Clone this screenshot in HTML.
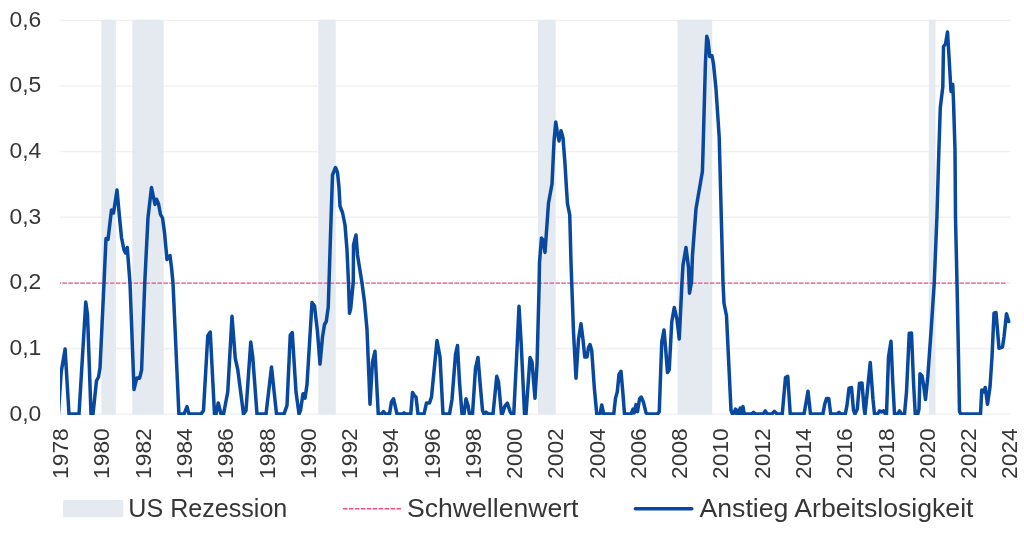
<!DOCTYPE html>
<html lang="de"><head><meta charset="utf-8"><title>Anstieg Arbeitslosigkeit</title>
<style>html,body{margin:0;padding:0;background:#fff}svg{display:block}text{font-family:"Liberation Sans",sans-serif;fill:#363636}</style></head><body>
<svg width="1024" height="544" viewBox="0 0 1024 544">
<rect width="1024" height="544" fill="#fff"/>
<line x1="60" x2="1011" y1="20.40" y2="20.40" stroke="#f0f0f0" stroke-width="1.3"/>
<line x1="60" x2="1011" y1="86.02" y2="86.02" stroke="#f0f0f0" stroke-width="1.3"/>
<line x1="60" x2="1011" y1="151.64" y2="151.64" stroke="#f0f0f0" stroke-width="1.3"/>
<line x1="60" x2="1011" y1="217.26" y2="217.26" stroke="#f0f0f0" stroke-width="1.3"/>
<line x1="60" x2="1011" y1="282.88" y2="282.88" stroke="#f0f0f0" stroke-width="1.3"/>
<line x1="60" x2="1011" y1="348.50" y2="348.50" stroke="#f0f0f0" stroke-width="1.3"/>
<line x1="60" x2="1011" y1="414.12" y2="414.12" stroke="#f0f0f0" stroke-width="1.3"/>
<rect x="101.4" y="19.9" width="14.50" height="394.70" fill="#e5eaf1"/>
<rect x="132.3" y="19.9" width="31.40" height="394.70" fill="#e5eaf1"/>
<rect x="318.25" y="19.9" width="17.50" height="394.70" fill="#e5eaf1"/>
<rect x="538" y="19.9" width="17.75" height="394.70" fill="#e5eaf1"/>
<rect x="677.5" y="19.9" width="34.75" height="394.70" fill="#e5eaf1"/>
<rect x="928.75" y="19.9" width="6.75" height="394.70" fill="#e5eaf1"/>
<line x1="60" x2="1006.3" y1="283.1" y2="283.1" stroke="#e9507f" stroke-width="1.35" stroke-dasharray="4.5 1.44" stroke-dashoffset="3.5"/>
<clipPath id="c"><rect x="60" y="0" width="951.2" height="415"/></clipPath>
<path d="M58.40,414.10 L61.20,372.00 L65.10,349.10 L69.00,414.10 L79.00,414.10 L85.75,302.00 L87.50,314.50 L91.00,414.10 L93.00,414.10 L96.50,380.75 L98.50,377.00 L100.00,368.00 L104.00,283.00 L106.00,238.50 L108.00,239.50 L111.50,210.00 L113.50,213.00 L117.00,190.00 L120.00,222.50 L121.50,237.50 L124.00,250.00 L125.50,253.00 L127.25,247.50 L130.00,283.00 L134.00,389.50 L136.80,377.90 L139.60,378.20 L141.60,370.00 L144.75,283.00 L148.00,217.50 L151.50,187.50 L155.00,204.50 L156.50,199.25 L158.50,203.75 L160.50,214.50 L162.50,218.00 L164.50,232.50 L167.00,259.50 L170.00,255.50 L171.50,267.50 L173.00,283.00 L178.90,414.10 L184.00,414.10 L187.00,406.65 L189.00,414.10 L201.00,414.10 L203.50,410.40 L207.75,335.75 L210.25,332.00 L214.50,414.10 L216.00,414.10 L218.25,402.90 L221.00,414.10 L223.50,414.10 L227.75,392.00 L232.00,316.25 L235.25,358.25 L237.75,369.50 L243.50,414.10 L246.00,410.40 L250.75,342.00 L252.75,357.00 L257.00,414.10 L266.00,414.10 L271.50,367.00 L276.50,414.10 L284.00,414.10 L287.00,405.40 L290.25,335.00 L292.25,332.50 L296.00,392.00 L299.00,414.10 L300.50,410.40 L303.00,393.75 L305.00,398.25 L307.00,384.50 L312.00,302.50 L314.50,305.75 L317.50,332.00 L320.00,364.00 L322.50,337.00 L324.50,324.50 L326.25,321.50 L328.25,307.00 L329.00,283.00 L330.60,232.50 L332.50,175.00 L335.50,167.50 L337.50,172.50 L339.00,187.50 L340.00,206.25 L342.50,212.50 L345.00,225.00 L347.00,250.00 L348.50,283.00 L349.50,313.25 L350.75,308.25 L353.25,282.00 L353.50,245.00 L356.00,235.00 L357.50,255.00 L362.00,283.00 L364.50,302.00 L367.00,329.50 L370.00,404.15 L372.50,362.00 L375.00,351.25 L378.25,414.10 L381.50,414.10 L383.50,411.65 L385.50,414.10 L389.50,414.10 L391.50,401.65 L393.50,398.75 L397.00,414.10 L402.50,414.10 L404.00,412.90 L405.50,414.10 L410.75,414.10 L412.50,392.50 L414.50,395.75 L416.00,397.00 L418.00,414.10 L424.00,414.10 L426.50,402.90 L429.50,402.90 L431.50,397.00 L437.00,340.50 L440.00,357.00 L443.00,414.10 L449.50,414.10 L452.00,399.50 L455.50,354.50 L457.50,345.50 L459.50,382.00 L462.00,414.10 L464.00,414.10 L466.00,398.75 L468.00,405.40 L469.50,414.10 L472.50,414.10 L475.50,368.25 L478.00,357.50 L480.00,382.00 L482.50,410.40 L484.00,414.10 L486.00,412.15 L488.75,414.10 L493.00,414.10 L496.75,376.25 L498.50,382.00 L501.50,414.10 L502.30,414.10 L504.90,406.10 L507.30,403.10 L510.20,411.90 L511.60,414.10 L513.75,414.10 L516.25,364.50 L519.00,306.25 L521.25,344.50 L524.50,414.10 L526.00,414.10 L530.00,357.50 L532.00,362.00 L535.00,398.25 L537.00,364.50 L539.00,290.00 L539.50,262.50 L541.50,238.00 L543.00,240.00 L545.00,252.50 L548.50,203.00 L552.00,184.00 L554.00,141.50 L555.75,122.00 L557.25,131.50 L559.00,141.00 L561.00,130.75 L563.00,137.75 L565.00,164.00 L566.50,189.00 L567.50,203.75 L569.75,215.00 L571.00,262.50 L573.50,332.00 L576.00,378.25 L578.50,339.50 L581.00,323.75 L583.00,339.50 L584.75,357.00 L587.00,357.00 L588.50,347.50 L590.00,344.50 L591.75,350.75 L594.25,387.00 L596.75,414.10 L600.00,414.10 L601.75,404.90 L603.75,414.10 L613.75,414.10 L615.50,398.25 L617.25,392.00 L619.00,374.50 L621.00,371.25 L623.00,394.50 L624.50,414.10 L631.00,414.10 L633.00,409.15 L634.25,412.90 L636.00,404.65 L637.50,411.65 L639.50,399.00 L641.25,397.00 L643.50,402.40 L646.00,412.90 L647.50,414.10 L657.50,414.10 L659.25,411.65 L661.75,342.00 L664.00,330.00 L665.50,347.00 L667.50,372.50 L669.25,369.50 L671.75,322.00 L674.25,307.50 L677.00,319.50 L679.25,339.00 L682.00,282.00 L683.00,265.00 L686.00,247.50 L688.50,267.50 L689.50,293.25 L691.50,282.00 L692.50,255.00 L696.00,208.75 L702.40,171.50 L703.00,152.00 L705.40,64.00 L706.75,36.30 L708.00,40.25 L709.75,56.50 L712.00,55.75 L713.50,64.00 L716.00,89.00 L719.20,137.00 L723.00,283.00 L724.00,303.25 L726.50,315.75 L731.00,410.40 L732.50,414.10 L734.00,412.90 L735.50,409.15 L736.75,414.10 L738.00,410.40 L739.00,414.10 L740.25,407.90 L741.25,414.10 L743.00,406.65 L744.25,414.10 L751.50,414.10 L753.50,412.40 L755.50,414.10 L763.00,414.10 L765.25,410.90 L767.25,414.10 L771.75,414.10 L774.25,411.40 L777.25,414.10 L782.25,414.10 L785.50,377.50 L787.75,376.25 L790.25,414.10 L804.00,414.10 L806.00,402.90 L808.00,391.25 L810.50,414.10 L822.90,414.10 L824.80,403.90 L826.50,398.60 L828.80,398.60 L830.70,414.10 L837.00,414.10 L839.00,412.40 L841.00,414.10 L845.25,414.10 L847.00,405.40 L849.00,388.25 L851.50,387.50 L853.50,410.40 L855.00,414.10 L857.25,409.15 L859.50,383.25 L862.00,383.00 L864.00,407.90 L865.00,414.10 L870.25,362.50 L873.00,399.50 L874.50,414.10 L877.50,414.10 L879.50,410.90 L881.50,411.90 L883.50,410.90 L885.50,414.10 L886.50,414.10 L888.50,357.00 L891.00,341.25 L892.75,382.00 L894.50,414.10 L897.50,414.10 L899.50,410.90 L901.50,414.10 L904.50,414.10 L906.50,392.00 L909.25,333.25 L911.50,333.00 L913.50,382.00 L915.25,414.10 L917.75,414.10 L919.00,409.15 L920.00,373.75 L922.00,375.75 L923.50,384.50 L925.50,399.50 L927.75,377.00 L931.00,332.00 L934.25,283.00 L936.90,217.50 L938.90,150.00 L940.30,107.50 L942.80,87.00 L943.50,46.50 L945.50,44.00 L947.50,32.00 L949.00,56.50 L951.00,91.50 L952.75,84.50 L953.50,101.50 L955.00,150.00 L955.50,217.50 L957.00,283.00 L958.50,357.00 L959.50,411.65 L961.00,414.10 L980.50,414.10 L981.75,390.00 L983.50,392.00 L985.25,387.50 L987.50,404.15 L990.00,387.00 L992.00,357.00 L994.00,313.25 L996.00,312.50 L999.00,348.25 L1002.50,347.00 L1004.00,337.00 L1006.50,313.75 L1008.70,321.50" fill="none" stroke="#08499f" stroke-width="3.5" stroke-linejoin="round" stroke-linecap="round" clip-path="url(#c)"/>
<text x="9.5" y="26.80" font-size="22.4" textLength="31.8" lengthAdjust="spacingAndGlyphs">0,6</text>
<text x="9.5" y="92.42" font-size="22.4" textLength="31.8" lengthAdjust="spacingAndGlyphs">0,5</text>
<text x="9.5" y="158.04" font-size="22.4" textLength="31.8" lengthAdjust="spacingAndGlyphs">0,4</text>
<text x="9.5" y="223.66" font-size="22.4" textLength="31.8" lengthAdjust="spacingAndGlyphs">0,3</text>
<text x="9.5" y="289.28" font-size="22.4" textLength="31.8" lengthAdjust="spacingAndGlyphs">0,2</text>
<text x="9.5" y="354.90" font-size="22.4" textLength="31.8" lengthAdjust="spacingAndGlyphs">0,1</text>
<text x="9.5" y="420.52" font-size="22.4" textLength="31.8" lengthAdjust="spacingAndGlyphs">0,0</text>
<text transform="translate(68.15,478.9) rotate(-90)" font-size="22.4" textLength="50.6" lengthAdjust="spacingAndGlyphs">1978</text>
<text transform="translate(109.42,478.9) rotate(-90)" font-size="22.4" textLength="50.6" lengthAdjust="spacingAndGlyphs">1980</text>
<text transform="translate(150.69,478.9) rotate(-90)" font-size="22.4" textLength="50.6" lengthAdjust="spacingAndGlyphs">1982</text>
<text transform="translate(191.96,478.9) rotate(-90)" font-size="22.4" textLength="50.6" lengthAdjust="spacingAndGlyphs">1984</text>
<text transform="translate(233.23,478.9) rotate(-90)" font-size="22.4" textLength="50.6" lengthAdjust="spacingAndGlyphs">1986</text>
<text transform="translate(274.50,478.9) rotate(-90)" font-size="22.4" textLength="50.6" lengthAdjust="spacingAndGlyphs">1988</text>
<text transform="translate(315.77,478.9) rotate(-90)" font-size="22.4" textLength="50.6" lengthAdjust="spacingAndGlyphs">1990</text>
<text transform="translate(357.04,478.9) rotate(-90)" font-size="22.4" textLength="50.6" lengthAdjust="spacingAndGlyphs">1992</text>
<text transform="translate(398.31,478.9) rotate(-90)" font-size="22.4" textLength="50.6" lengthAdjust="spacingAndGlyphs">1994</text>
<text transform="translate(439.58,478.9) rotate(-90)" font-size="22.4" textLength="50.6" lengthAdjust="spacingAndGlyphs">1996</text>
<text transform="translate(480.85,478.9) rotate(-90)" font-size="22.4" textLength="50.6" lengthAdjust="spacingAndGlyphs">1998</text>
<text transform="translate(522.12,478.9) rotate(-90)" font-size="22.4" textLength="50.6" lengthAdjust="spacingAndGlyphs">2000</text>
<text transform="translate(563.38,478.9) rotate(-90)" font-size="22.4" textLength="50.6" lengthAdjust="spacingAndGlyphs">2002</text>
<text transform="translate(604.65,478.9) rotate(-90)" font-size="22.4" textLength="50.6" lengthAdjust="spacingAndGlyphs">2004</text>
<text transform="translate(645.92,478.9) rotate(-90)" font-size="22.4" textLength="50.6" lengthAdjust="spacingAndGlyphs">2006</text>
<text transform="translate(687.19,478.9) rotate(-90)" font-size="22.4" textLength="50.6" lengthAdjust="spacingAndGlyphs">2008</text>
<text transform="translate(728.46,478.9) rotate(-90)" font-size="22.4" textLength="50.6" lengthAdjust="spacingAndGlyphs">2010</text>
<text transform="translate(769.73,478.9) rotate(-90)" font-size="22.4" textLength="50.6" lengthAdjust="spacingAndGlyphs">2012</text>
<text transform="translate(811.00,478.9) rotate(-90)" font-size="22.4" textLength="50.6" lengthAdjust="spacingAndGlyphs">2014</text>
<text transform="translate(852.27,478.9) rotate(-90)" font-size="22.4" textLength="50.6" lengthAdjust="spacingAndGlyphs">2016</text>
<text transform="translate(893.54,478.9) rotate(-90)" font-size="22.4" textLength="50.6" lengthAdjust="spacingAndGlyphs">2018</text>
<text transform="translate(934.81,478.9) rotate(-90)" font-size="22.4" textLength="50.6" lengthAdjust="spacingAndGlyphs">2020</text>
<text transform="translate(976.08,478.9) rotate(-90)" font-size="22.4" textLength="50.6" lengthAdjust="spacingAndGlyphs">2022</text>
<text transform="translate(1017.35,478.9) rotate(-90)" font-size="22.4" textLength="50.6" lengthAdjust="spacingAndGlyphs">2024</text>
<rect x="63" y="500" width="60.2" height="17.2" rx="1.5" fill="#e5eaf1"/>
<text x="128.3" y="516.8" font-size="25.3" textLength="159" lengthAdjust="spacingAndGlyphs">US Rezession</text>
<line x1="343" x2="401" y1="508.75" y2="508.75" stroke="#e9507f" stroke-width="1.35" stroke-dasharray="4.5 1.44"/>
<text x="407" y="516.8" font-size="25.3" textLength="171.5" lengthAdjust="spacingAndGlyphs">Schwellenwert</text>
<line x1="635.4" x2="691.8" y1="508.75" y2="508.75" stroke="#08499f" stroke-width="3.6" stroke-linecap="round"/>
<text x="699.5" y="516.8" font-size="25.3" textLength="274" lengthAdjust="spacingAndGlyphs">Anstieg Arbeitslosigkeit</text>
</svg></body></html>
